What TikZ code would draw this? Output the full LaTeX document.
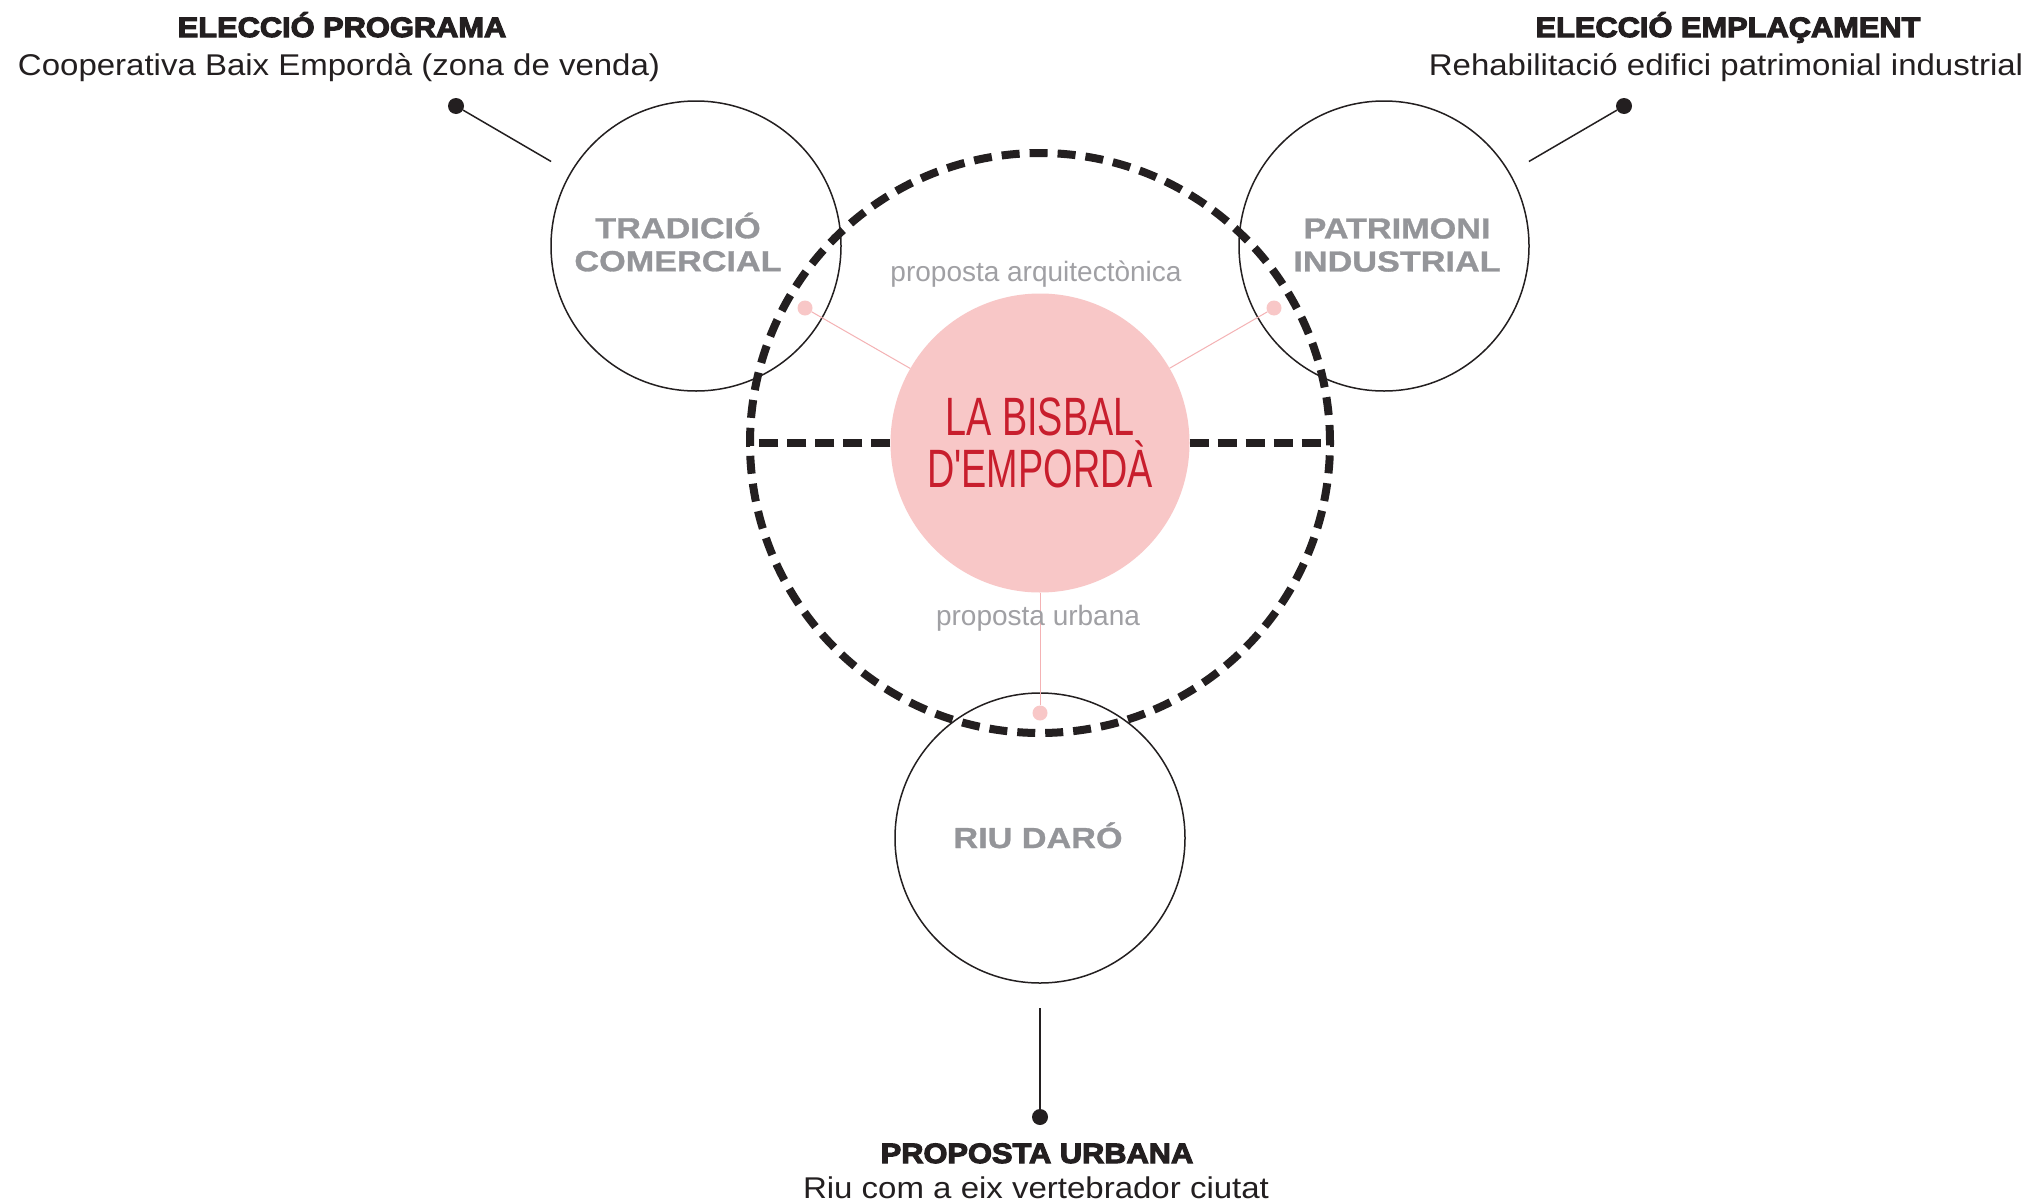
\documentclass[tikz,border=0pt]{standalone}
\usepackage{fontspec}
\setmainfont{Liberation Sans}
\newfontfamily\bodyfont{Liberation Sans}[FakeStretch=1.1]
\newfontfamily\smallfont{Liberation Sans}
\newfontfamily\heavyfont{Liberation Sans Bold}[FakeBold=4,FakeStretch=1.1]
\newfontfamily\graybold{Liberation Sans Bold}[FakeStretch=1.18,FakeBold=1]
\newfontfamily\condfont{Liberation Sans}[FakeStretch=0.7,Ligatures=TeXOff]
\definecolor{inkblack}{RGB}{35,31,32}
\definecolor{labelgray}{RGB}{148,149,153}
\definecolor{softgray}{RGB}{160,160,164}
\definecolor{pinkfill}{RGB}{248,199,199}
\definecolor{pinkline}{RGB}{244,178,180}
\definecolor{redtext}{RGB}{200,30,45}
\begin{document}
\begin{tikzpicture}[x=1pt,y=-1pt,
  ringc/.style={circle, draw=inkblack, line width=1.5pt, minimum size=290pt, inner sep=0pt},
  dashring/.style={circle, draw=inkblack, line width=8pt, dash pattern=on 18pt off 10pt, minimum size=580pt, inner sep=0pt},
  corec/.style={circle, fill=pinkfill, minimum size=299pt, inner sep=0pt, align=center, text=redtext, font=\condfont\fontsize{54}{52}\selectfont},
  pdot/.style={circle, fill=pinkfill, minimum size=15pt, inner sep=0pt},
  bdot/.style={circle, fill=inkblack, minimum size=16pt, inner sep=0pt},
  pinkconn/.style={draw=pinkline, line width=1pt},
  blackconn/.style={draw=inkblack, line width=1.5pt},
  dashh/.style={draw=inkblack, line width=8pt, dash pattern=on 19pt off 9pt},
  headT/.style={font=\heavyfont\fontsize{28}{32}\selectfont, text=inkblack, inner sep=0pt},
  bodyT/.style={font=\bodyfont\fontsize{30}{34}\selectfont, text=inkblack, inner sep=0pt},
  smallT/.style={font=\smallfont\fontsize{28}{32}\selectfont, text=softgray, inner sep=0pt},
  grayT/.style={font=\graybold\fontsize{29}{33}\selectfont, text=labelgray, align=center, inner sep=0pt}
]
\useasboundingbox[fill=white] (0,0) rectangle (2026,1202);
% outer circles
\node[ringc] (trad) at (696,246) {};
\node[ringc] (patr) at (1384,246) {};
\node[ringc] (riu) at (1040,838) {};
% big dashed ring
\node[dashring] (ring) at (1040,443) {};
% core
\node[corec] (core) at (1040,443) {LA BISBAL\\D'EMPORDÀ};
% horizontal dashed lines
\draw[dashh] (core.west) -- (ring.west);
\draw[dashh] (core.east) -- (ring.east);
% pink dots and connectors
\node[pdot] (pdL) at (805,308) {};
\node[pdot] (pdR) at (1274,308) {};
\node[pdot] (pdB) at (1040,713) {};
\draw[pinkconn] (pdL) -- (core);
\draw[pinkconn] (pdR) -- (core);
\draw[pinkconn] (pdB) -- (core);
% black dots and connectors
\node[bdot] (bdL) at (456,106) {};
\node[bdot] (bdR) at (1624,106) {};
\node[bdot] (bdB) at (1040,1117) {};
\draw[blackconn, shorten >=22pt] (bdL) -- (trad);
\draw[blackconn, shorten >=22pt] (bdR) -- (patr);
\draw[blackconn, shorten >=24pt] (bdB) -- (riu);
% texts
\node[headT, anchor=base] (hL) at (342,37) {ELECCIÓ PROGRAMA};
\node[bodyT, anchor=base] (sL) at (339,75) {Cooperativa Baix Empordà (zona de venda)};
\node[headT, anchor=base] (hR) at (1728,37) {ELECCIÓ EMPLAÇAMENT};
\node[bodyT, anchor=base] (sR) at (1726,75) {Rehabilitació edifici patrimonial industrial};
\node[headT, anchor=base] (hB) at (1037,1163) {PROPOSTA URBANA};
\node[bodyT, anchor=base] (sB) at (1036,1198) {Riu com a eix vertebrador ciutat};
\node[smallT, anchor=base] (pa) at (1036,281) {proposta arquitectònica};
\node[smallT, anchor=base] (pu) at (1038,625) {proposta urbana};
\node[grayT] (tTrad) at (678,242) {TRADICIÓ\\COMERCIAL};
\node[grayT] (tPatr) at (1397,245) {PATRIMONI\\INDUSTRIAL};
\node[grayT, anchor=base] (tRiu) at (1038,848) {RIU DARÓ};
\end{tikzpicture}
\end{document}
